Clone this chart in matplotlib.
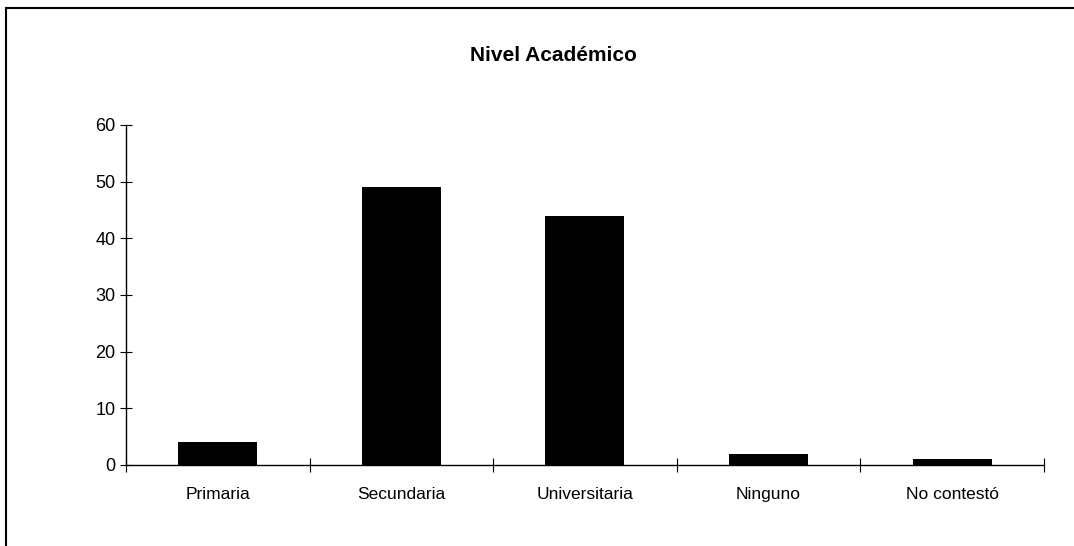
import numpy as np
import matplotlib.pyplot as plt
from matplotlib.patches import Rectangle

categorias = ["Primaria", "Secundaria", "Universitaria", "Ninguno", "No contestó"]
valores = [4, 49, 44, 2, 1]
yticks = [0, 10, 20, 30, 40, 50, 60]

plt.rcParams['font.family'] = ['Liberation Sans', 'DejaVu Sans']

fig = plt.figure(figsize=(10.74, 5.46), dpi=100)
ax = fig.add_axes([0.1173, 0.1484, 0.8547, 0.6227])

x = np.arange(len(categorias))
ax.bar(x, valores, width=0.43, color='black')

ax.set_xlim(-0.5, len(categorias) - 0.5)
ax.set_ylim(0, 60)
ax.set_yticks(yticks)
ax.tick_params(axis='y', direction='inout', length=8, labelsize=13, width=0.8)

# labels at centres, ticks at category boundaries
ax.set_xticks(x)
ax.set_xticklabels(categorias, fontsize=12.5)
ax.tick_params(axis='x', which='major', length=0, pad=16)
ax.set_xticks(np.arange(len(categorias) + 1) - 0.5, minor=True)
ax.tick_params(axis='x', which='minor', direction='inout', length=10, width=0.8)

for s in ['top', 'right']:
    ax.spines[s].set_visible(False)
for s in ['left', 'bottom']:
    ax.spines[s].set_linewidth(1.0)

fig.text(0.515, 0.899, "Nivel Académico", ha='center', va='center',
         fontsize=15, fontweight='bold')

# marco exterior del gráfico
fig.patches.append(Rectangle((0.006, -0.01), 0.995, 0.996, transform=fig.transFigure,
                             fill=False, edgecolor='black', linewidth=1.5))

plt.savefig("out.png", dpi=100)
